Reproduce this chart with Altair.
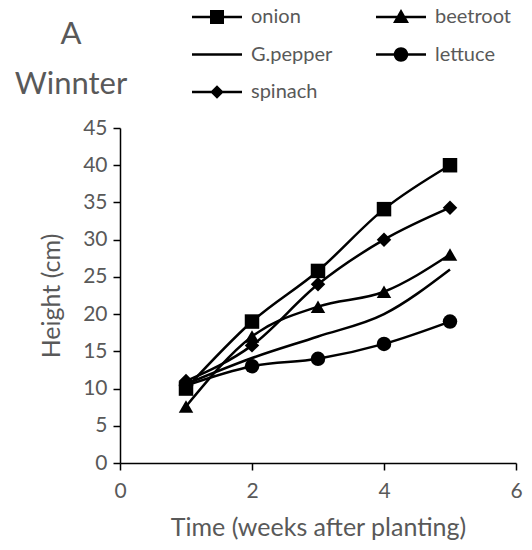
import altair as alt
import pandas as pd

weeks = [1, 2, 3, 4, 5]
series_names = ["onion", "beetroot", "G.pepper", "lettuce", "spinach"]
onion = [10.0, 19.0, 25.8, 34.1, 40.0]
beetroot = [7.6, 17.0, 21.0, 23.0, 28.0]
g_pepper = [10.6, 14.1, 17.0, 20.0, 26.0]
lettuce = [10.4, 13.0, 14.0, 16.0, 19.0]
spinach = [11.0, 15.8, 24.0, 30.0, 34.3]
x_ticks = [0, 2, 4, 6]
y_ticks = [0, 5, 10, 15, 20, 25, 30, 35, 40, 45]

values = {"onion": onion, "beetroot": beetroot, "G.pepper": g_pepper,
          "lettuce": lettuce, "spinach": spinach}
rows = []
for name in series_names:
    for w, v in zip(weeks, values[name]):
        rows.append({"week": w, "height": v, "crop": name})
df = pd.DataFrame(rows)

FONT = "Lato"
GRAY = "#595959"

x_enc = alt.X("week:Q", scale=alt.Scale(domain=[0, 6], nice=False),
              axis=alt.Axis(values=x_ticks, format="d", labelOverlap=False, labelFlush=False,
                            title="Time (weeks after planting)"))
y_enc = alt.Y("height:Q", scale=alt.Scale(domain=[0, 45], nice=False),
              axis=alt.Axis(values=y_ticks, format="d", labelOverlap=False, labelFlush=False,
                            labelSeparation=0, tickCount=10, title="Height (cm)"))

lines = alt.Chart(df).mark_line(color="black", strokeWidth=2.5, interpolate="monotone").encode(
    x=x_enc, y=y_enc, detail="crop:N"
)

marker_names = ["onion", "beetroot", "lettuce", "spinach"]
points = alt.Chart(df).transform_filter(
    alt.FieldOneOfPredicate(field="crop", oneOf=marker_names)
).mark_point(filled=True, color="black", opacity=1, size=210).encode(
    x=x_enc, y=y_enc,
    shape=alt.Shape("crop:N", scale=alt.Scale(domain=marker_names,
                    range=["square", "triangle-up", "circle", "diamond"]), legend=None),
)

# legend laid out column by column: onion, G.pepper, spinach | beetroot, lettuce
legend_order = ["onion", "G.pepper", "spinach", "beetroot", "lettuce"]
BAR = "M-5,-0.25H5V0.25H-5Z"
legend_paths = [
    BAR + "M-1.4,-1.4H1.4V1.4H-1.4Z",
    BAR,
    BAR + "M0,-1.35L1.35,0L0,1.35L-1.35,0Z",
    BAR + "M0,-1.6L1.6,1.2L-1.6,1.2Z",
    BAR + "M-1.45,0A1.45,1.45,0,1,1,1.45,0A1.45,1.45,0,1,1,-1.45,0Z",
]
legend_layer = alt.Chart(df).mark_point(filled=True, color="black", opacity=0, size=100).encode(
    x=x_enc, y=y_enc,
    shape=alt.Shape("crop:N", scale=alt.Scale(domain=legend_order, range=legend_paths),
                    sort=legend_order,
                    legend=alt.Legend(title=None, orient="none", legendX=87, legendY=-121,
                                      columns=2, columnPadding=43, rowPadding=17.5,
                                      symbolSize=100, symbolFillColor="black",
                                      symbolStrokeColor="black", symbolStrokeWidth=0,
                                      symbolOpacity=1, labelOffset=24, labelFont=FONT,
                                      labelFontSize=20, labelColor=GRAY, labelLimit=0,
                                      padding=0)),
)

chart = alt.layer(lines, points, legend_layer).resolve_scale(shape="independent").properties(
    width=396, height=335,
    title=alt.TitleParams(["A", "Winnter"], anchor="start", align="center", baseline="top",
                          dx=-49, dy=94, offset=0, font=FONT, fontSize=31,
                          fontWeight="normal", color=GRAY, lineHeight=50, frame="group"),
    autosize=alt.AutoSizeParams(type="none"),
    padding={"left": 120, "top": 128, "right": 16, "bottom": 87},
).configure_view(stroke=None).configure_axis(
    grid=False, domainColor="black", domainWidth=1.5, tickColor="black", tickWidth=1.5,
    tickSize=7, labelFont=FONT, labelFontSize=21, labelColor=GRAY, titleFont=FONT,
    titleFontSize=25, titleFontWeight="normal", titleColor=GRAY,
).configure_axisY(labelPadding=6, titlePadding=18).configure_axisX(labelPadding=10, titlePadding=14)

chart.save("out.html", embed_options={"renderer": "svg", "actions": False})
